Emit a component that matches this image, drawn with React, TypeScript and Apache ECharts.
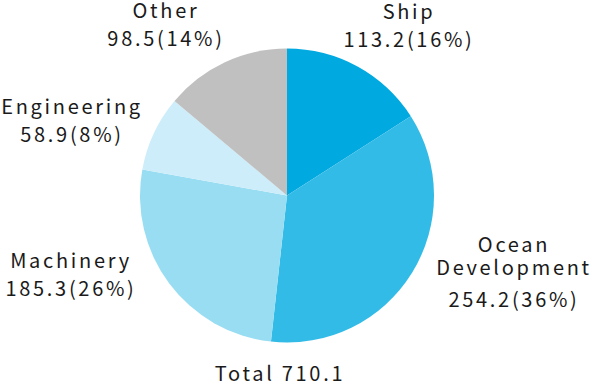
import React, { useEffect, useRef } from "react";
import * as echarts from "echarts";

const categories = ["Ship", "Ocean Development", "Machinery", "Engineering", "Other"];
const values = [113.2, 254.2, 185.3, 58.9, 98.5];
const percents = [16, 36, 26, 8, 14];
const nameLines = [["Ship"], ["Ocean", "Development"], ["Machinery"], ["Engineering"], ["Other"]];
const colors = ["#00a9e0", "#33bbe7", "#99ddf3", "#ccedf9", "#c0c0c0"];
const labelPos = [
  [409, 26.5],
  [514, 275.5],
  [71, 276],
  [72, 121.5],
  [166, 26],
];

const FONT = "'Noto Sans CJK JP', 'Noto Sans', sans-serif";

export default function App() {
  const ref = useRef<HTMLDivElement>(null);
  useEffect(() => {
    if (!ref.current) return;
    const chart = echarts.init(ref.current, null, { renderer: "svg" });
    const total = values.reduce((a, b) => a + b, 0);
    chart.setOption({
      animation: false,
      backgroundColor: "#ffffff",
      textStyle: { fontFamily: FONT },
      graphic: [
        {
          type: "text",
          x: 280,
          y: 372,
          style: {
            text: "Total " + total.toFixed(1),
            fill: "#1a1a1a",
            font: "20px " + FONT,
            textAlign: "center",
            textVerticalAlign: "middle",
          },
        },
      ],
      series: [
        {
          type: "pie",
          center: [287, 195.5],
          radius: [0, 147],
          startAngle: 90,
          clockwise: true,
          silent: true,
          emphasis: { disabled: true },
          itemStyle: { borderWidth: 0 },
          labelLine: { show: false },
          data: categories.map((c, i) => ({
            name: c,
            value: values[i],
            itemStyle: { color: colors[i] },
          })),
          label: {
            show: true,
            position: "inside",
            overflow: "none",
            formatter: (p: any) => {
              const i = p.dataIndex;
              const v = values[i].toFixed(1) + "(" + percents[i] + "%)";
              return "{n|" + nameLines[i].join("\n") + "}\n{" + (i === 1 ? "w" : "v") + "|" + v + "}";
            },
            rich: {
              n: { fontSize: 20, lineHeight: 23, color: "#1a1a1a", fontFamily: FONT, align: "center" },
              v: { fontSize: 20, lineHeight: 33, color: "#1a1a1a", fontFamily: FONT, align: "center" },
              w: { fontSize: 20, lineHeight: 41, color: "#1a1a1a", fontFamily: FONT, align: "center" },
            },
          },
          labelLayout: (params: any) => ({
            x: labelPos[params.dataIndex][0],
            y: labelPos[params.dataIndex][1],
            align: "center",
            verticalAlign: "middle",
          }),
        },
      ],
    });
    return () => chart.dispose();
  }, []);
  return (
    <>
      <style>{`.pie-wrap svg text { letter-spacing: 2.7px; }`}</style>
      <div
        className="pie-wrap"
        ref={ref}
        style={{ position: "absolute", left: 0, top: 0, width: 592, height: 392 }}
      />
    </>
  );
}
